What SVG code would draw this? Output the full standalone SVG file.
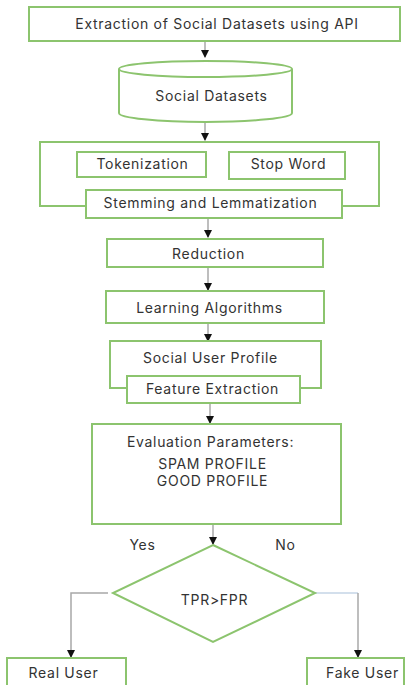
<svg xmlns="http://www.w3.org/2000/svg" width="409" height="685" viewBox="0 0 409 685">
<style>
.b{fill:#fff;stroke:#8cc46e;stroke-width:2}
.o{fill:none;stroke:#8cc46e;stroke-width:2}
.c{fill:none;stroke:#a8a8a8;stroke-width:1.5}
.t{font-family:Inter,"Liberation Sans",sans-serif;font-size:14px;letter-spacing:0.7px;fill:#333;text-anchor:middle}
</style>
<defs>
<marker id="ah" markerWidth="8" markerHeight="8" refX="7" refY="4" orient="auto" markerUnits="userSpaceOnUse">
<path d="M0,0 L8,4 L0,8 Z" fill="#111"/>
</marker>
</defs>
<rect width="409" height="685" fill="#fff"/>
<g id="connectors">
<path class="c" d="M205,41 V57" marker-end="url(#ah)"/>
<path class="c" d="M205,122 V140" marker-end="url(#ah)"/>
<path class="c" d="M208,218 V237" marker-end="url(#ah)"/>
<path class="c" d="M208,267 V290" marker-end="url(#ah)"/>
<path class="c" d="M208,323 V341" marker-end="url(#ah)"/>
<path class="c" d="M210,403 V423" marker-end="url(#ah)"/>
<path class="c" d="M213,524 V544" marker-end="url(#ah)"/>
<path class="c" d="M108,593 H71 V657" marker-end="url(#ah)"/>
<path fill="none" stroke="#c4d4e6" stroke-width="1.5" d="M315,593 H358"/>
<path class="c" d="M358,593 V657" marker-end="url(#ah)"/>
</g>
<g id="n-extraction">
<rect class="b" x="29" y="7" width="371" height="34"/>
<text class="t" x="217" y="28.5">Extraction of Social Datasets using API</text>
</g>
<g id="n-datasets">
<path class="b" d="M119,69 V113 A86.5,9 0 0 0 292,113 V69"/>
<ellipse class="b" cx="205.5" cy="69" rx="86.5" ry="8"/>
<text class="t" x="211.5" y="100.5">Social Datasets</text>
</g>
<g id="n-preprocess">
<path class="o" d="M86,206 H40 V142 H379 V206 H342"/>
</g>
<g id="n-tokenization">
<rect class="b" x="77" y="152" width="129" height="25"/>
<text class="t" x="142.5" y="168.5">Tokenization</text>
</g>
<g id="n-stopword">
<rect class="b" x="229" y="152" width="116" height="27"/>
<text class="t" x="288.5" y="168.5">Stop Word</text>
</g>
<g id="n-stemming">
<rect class="b" x="86" y="190" width="256" height="28"/>
<text class="t" x="210.5" y="207.5">Stemming and Lemmatization</text>
</g>
<g id="n-reduction">
<rect class="b" x="107" y="239" width="216" height="28"/>
<text class="t" x="208.5" y="258.5">Reduction</text>
</g>
<g id="n-learning">
<rect class="b" x="106" y="291" width="218" height="32"/>
<text class="t" x="209.5" y="312.5">Learning Algorithms</text>
</g>
<g id="n-profile">
<path class="o" d="M127,388 H110 V341 H321 V388 H300"/>
<text class="t" x="210.5" y="362.5">Social User Profile</text>
</g>
<g id="n-feature">
<rect class="b" x="127" y="376" width="173" height="27"/>
<text class="t" x="212.5" y="393.5">Feature Extraction</text>
</g>
<g id="n-evaluation">
<rect class="b" x="92" y="424" width="249" height="100"/>
<text class="t" x="210.5" y="446.5">Evaluation Parameters:</text>
<text class="t" x="212.5" y="468.5">SPAM PROFILE</text>
<text class="t" x="212.5" y="486">GOOD PROFILE</text>
</g>
<g id="n-decision">
<polygon class="b" points="213,545 315,593 213,642 113,593"/>
<text class="t" x="214.5" y="604.5">TPR&gt;FPR</text>
</g>
<text class="t" x="142.5" y="549.5">Yes</text>
<text class="t" x="285.5" y="549.5">No</text>
<g id="n-real">
<rect class="b" x="7" y="658" width="119" height="40"/>
<text class="t" x="63.5" y="677.5">Real User</text>
</g>
<g id="n-fake">
<rect class="b" x="307" y="658" width="97" height="40"/>
<text class="t" x="362.5" y="677.5">Fake User</text>
</g>
</svg>
